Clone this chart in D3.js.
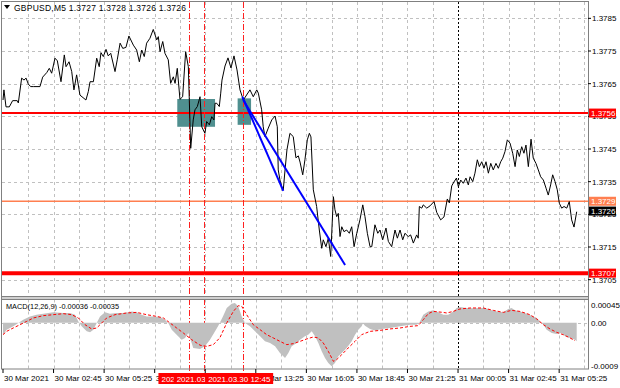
<!DOCTYPE html>
<html>
<head>
<meta charset="utf-8">
<script src="https://cdn.jsdelivr.net/npm/d3@7"></script>
<style>
  body { margin: 0; background: #fff; }
  svg { display: block; font-family: "Liberation Sans", Arial, sans-serif; }
</style>
</head>
<body>
<svg id="chart" width="620" height="388"></svg>
<script>
// price path (bar index from 30 Mar 00:05, M5 bars) and close
var priceBars = [0, 0.6, 1.9, 4, 6.1, 9, 9.7, 11.8, 13.3, 14.6, 16, 17.5, 19.2, 23.4, 25.1, 27.7, 29.3, 30.8, 32.9, 34.4,
  36.7, 38.8, 39.9, 41.8, 43.5, 44.9, 46.6, 48.7, 52.5, 54, 55.1, 57.2, 59.3, 60.9, 62, 63.5, 65.2, 66.6, 68.2, 70.9,
  72.3, 74.1, 75.8, 77.8, 79.7, 82.5, 84.6, 86.3, 87.8, 89.4, 90.9, 93, 95.1, 97.3, 98.3, 99.4, 101.1, 102.5, 104.6, 106.1,
  107.8, 108.9, 110.3, 112, 113.7, 115.6, 117.3, 118.8, 120.4, 121.5, 123, 124.7, 125.8, 127.8, 128.9, 130.6, 132.1, 133.5, 134.2, 135.3,
  136.9, 137.8, 138.6, 140.5, 142.4, 144.3, 146.2, 148.1, 150, 152.1, 156.3, 158.4, 160.6, 161.6, 163.7, 164.7, 165.8, 167.9, 170.1, 172.2,
  173.6, 174.2, 175.3, 176.4, 177.4, 178.5, 179.7, 181.6, 183.7, 185.4, 186.9, 188, 189.7, 191.1, 192.6, 193.9, 194.9, 196.4, 198.5, 200.2,
  201.7, 202.7, 204.4, 205.9, 207.4, 209.1, 210.1, 211.2, 212.2, 213.3, 214.4, 215.8, 217.5, 219.2, 220.7, 222.2, 223.9, 225.9, 227.7, 229.1,
  230.6, 232.3, 233.4, 235.4, 237.2, 238.6, 240.3, 242.4, 243.9, 246, 248.1, 249.6, 251.3, 253, 254.4, 256.5, 258, 259.7, 261.8, 262.8,
  263.5, 265, 266, 268.2, 270.3, 272.8, 274.5, 277, 279.1, 281.2, 282.5, 284, 285.4, 287, 288.2, 289.7, 291.3, 293, 294.5, 295.6,
  297.3, 298.7, 300.2, 301.5, 303, 304.4, 305.7, 307.2, 308.7, 310.3, 312, 313.5, 315, 316.3, 317.7, 319.2, 320.9, 322.6, 324.1, 325.5,
  326.8, 328.3, 329.7, 331, 332.5, 334.2, 335.6, 337.3, 338.8, 340.3, 342, 343.7, 345.1, 346.6, 347.9, 349.4, 350.8, 352.1, 353.6, 355.1,
  356.8, 358.4, 359.9, 361.4, 363.1];
var priceValues = [1.37600, 1.37631, 1.37579, 1.37579, 1.37598, 1.37598, 1.37591, 1.37667, 1.37661, 1.37667, 1.37649, 1.37641, 1.37641, 1.37641, 1.37670, 1.37684, 1.37697, 1.37682, 1.37728, 1.37720,
  1.37656, 1.37738, 1.37702, 1.37717, 1.37687, 1.37631, 1.37677, 1.37615, 1.37600, 1.37626, 1.37656, 1.37656, 1.37728, 1.37702, 1.37745, 1.37733, 1.37755, 1.37735, 1.37743, 1.37687,
  1.37723, 1.37774, 1.37758, 1.37761, 1.37796, 1.37768, 1.37753, 1.37717, 1.37753, 1.37733, 1.37774, 1.37789, 1.37816, 1.37784, 1.37794, 1.37748, 1.37779, 1.37743, 1.37723, 1.37651,
  1.37671, 1.37651, 1.37697, 1.37602, 1.37610, 1.37748, 1.37702, 1.37452, 1.37539, 1.37570, 1.37580, 1.37610, 1.37518, 1.37498, 1.37534, 1.37524, 1.37549, 1.37539, 1.37590, 1.37590,
  1.37580, 1.37621, 1.37661, 1.37704, 1.37729, 1.37698, 1.37735, 1.37692, 1.37631, 1.37600, 1.37631, 1.37610, 1.37631, 1.37621, 1.37570, 1.37518, 1.37488, 1.37514, 1.37539, 1.37551,
  1.37518, 1.37386, 1.37355, 1.37335, 1.37325, 1.37386, 1.37447, 1.37498, 1.37488, 1.37423, 1.37429, 1.37410, 1.37371, 1.37417, 1.37478, 1.37498, 1.37487, 1.37325, 1.37274, 1.37202,
  1.37146, 1.37172, 1.37151, 1.37177, 1.37121, 1.37304, 1.37264, 1.37243, 1.37253, 1.37182, 1.37212, 1.37197, 1.37202, 1.37192, 1.37212, 1.37151, 1.37192, 1.37233, 1.37279, 1.37243,
  1.37192, 1.37151, 1.37151, 1.37218, 1.37192, 1.37202, 1.37172, 1.37208, 1.37167, 1.37151, 1.37202, 1.37177, 1.37202, 1.37172, 1.37192, 1.37182, 1.37187, 1.37162, 1.37187, 1.37177,
  1.37274, 1.37269, 1.37279, 1.37269, 1.37276, 1.37289, 1.37256, 1.37233, 1.37242, 1.37297, 1.37285, 1.37337, 1.37349, 1.37361, 1.37335, 1.37355, 1.37345, 1.37361, 1.37340, 1.37365,
  1.37350, 1.37376, 1.37417, 1.37396, 1.37411, 1.37391, 1.37411, 1.37376, 1.37406, 1.37386, 1.37406, 1.37391, 1.37411, 1.37422, 1.37442, 1.37478, 1.37468, 1.37437, 1.37396, 1.37447,
  1.37427, 1.37457, 1.37437, 1.37462, 1.37396, 1.37480, 1.37422, 1.37406, 1.37386, 1.37365, 1.37355, 1.37330, 1.37309, 1.37340, 1.37371, 1.37350, 1.37325, 1.37284, 1.37269, 1.37274,
  1.37269, 1.37289, 1.37233, 1.37211, 1.37258];

// MACD(12,26,9) histogram and signal
var macdBars = [0, 2.3, 6.5, 9.7, 12.8, 17.1, 21.3, 25.5, 31.8, 38.2, 42.4, 45.6, 47.7, 49.8, 53, 55.1, 57.2, 59.3, 61.4, 64.6,
  67.7, 72, 76.1, 79.3, 81.5, 84.6, 87.8, 90.9, 95.1, 99.4, 102.5, 104.6, 106.8, 109.9, 113.1, 115.2, 117.3, 119.4, 120.4, 124.7,
  127.8, 131, 136.1, 139.2, 141.6, 144.7, 146.8, 148.9, 151.1, 153.2, 156.3, 159.5, 162.7, 165.8, 169, 172.2, 175.3, 178.5, 180.6, 182.7,
  185.9, 188, 191.1, 193.2, 195.4, 197.5, 199.6, 201.7, 203.8, 205.9, 208, 210.1, 212.2, 214.4, 217.5, 220.7, 222.8, 224.9, 227, 227.8,
  229.1, 232.3, 235.4, 239.7, 244.9, 251.3, 257.6, 261.8, 263.9, 266, 269.2, 272.3, 275.5, 278.7, 281.8, 285, 287.1, 289.2, 293.5, 297.7,
  301.9, 305.1, 308.2, 312.5, 316.6, 319.8, 321.9, 324.1, 327.2, 331.5, 334.6, 337.8, 340, 342, 344.1, 347.3, 350.4, 353.6, 355.7, 358.9,
  362, 363.1];
var macdValues = [-0.000233, -0.000136, -0.000072, -0.000006, 0.000058, 0.000122, 0.000155, 0.000175, 0.000200, 0.000188, 0.000188, 0.000155, 0.000025, -0.000072, -0.000169, -0.000188, -0.000136, -0.000006, 0.000122, 0.000200,
  0.000175, 0.000188, 0.000188, 0.000200, 0.000219, 0.000200, 0.000155, 0.000122, 0.000122, 0.000111, 0.000058, -0.000006, -0.000136, -0.000233, -0.000330, -0.000297, -0.000200, -0.000394, -0.000491, -0.000511,
  -0.000460, -0.000330, -0.000072, 0.000122, 0.000285, 0.000369, 0.000383, 0.000317, 0.000122, -0.000006, -0.000072, -0.000169, -0.000266, -0.000363, -0.000394, -0.000460, -0.000588, -0.000685, -0.000588, -0.000460,
  -0.000394, -0.000330, -0.000266, -0.000233, -0.000169, -0.000266, -0.000394, -0.000557, -0.000685, -0.000783, -0.000849, -0.000783, -0.000654, -0.000588, -0.000491, -0.000363, -0.000233, -0.000136, -0.000072, -0.000010,
  -0.000058, -0.000122, -0.000150, -0.000122, -0.000103, -0.000072, -0.000039, -0.000039, 0.000025, 0.000155, 0.000219, 0.000239, 0.000200, 0.000155, 0.000155, 0.000219, 0.000285, 0.000305, 0.000285, 0.000278,
  0.000285, 0.000285, 0.000252, 0.000219, 0.000200, 0.000266, 0.000285, 0.000239, 0.000219, 0.000175, 0.000136, 0.000091, 0.000025, -0.000039, -0.000136, -0.000200, -0.000219, -0.000200, -0.000266, -0.000297,
  -0.000330, -0.000363];
var signalBars = [0, 2.3, 6.5, 10.8, 15, 19.2, 25.5, 31.8, 38.2, 43.5, 47.7, 51.9, 56.1, 59.3, 62.5, 65.6, 70.9, 78.3, 84.6, 90.9,
  97.3, 101.5, 105.7, 109.9, 114.1, 119.4, 124.7, 128.9, 133.1, 137.3, 141.6, 145.8, 148.9, 151.1, 154.2, 158.4, 162.7, 166.9, 171.1, 175.3,
  179.6, 183.7, 188, 192.2, 196.4, 199.6, 202.7, 205.9, 209.1, 211.2, 214.4, 218.5, 222.8, 227, 232.3, 238.6, 244.9, 251.3, 257.6, 262.8,
  266, 269.2, 272.3, 278.5, 280.8, 285, 289.2, 295.6, 304, 310.3, 316.6, 321.9, 327.2, 333.5, 337.8, 342, 346.2, 350.4, 354.6, 358.9,
  362];
var signalValues = [-0.000233, -0.000169, -0.000103, -0.000039, 0.000025, 0.000091, 0.000136, 0.000155, 0.000175, 0.000155, 0.000091, -0.000039, -0.000122, -0.000103, -0.000006, 0.000091, 0.000155, 0.000188, 0.000200, 0.000155,
  0.000122, 0.000091, -0.000006, -0.000103, -0.000200, -0.000330, -0.000437, -0.000460, -0.000427, -0.000291, -0.000006, 0.000219, 0.000330, 0.000317, 0.000155, -0.000039, -0.000136, -0.000233, -0.000297, -0.000363,
  -0.000427, -0.000408, -0.000363, -0.000317, -0.000278, -0.000297, -0.000394, -0.000557, -0.000751, -0.000718, -0.000621, -0.000491, -0.000363, -0.000233, -0.000169, -0.000150, -0.000122, -0.000103, -0.000072, -0.000058,
  0.000058, 0.000175, 0.000219, 0.000200, 0.000188, 0.000219, 0.000266, 0.000285, 0.000285, 0.000239, 0.000200, 0.000239, 0.000219, 0.000155, 0.000072, -0.000039, -0.000122, -0.000188, -0.000233, -0.000297,
  -0.000350];

var timeLabels = ["30 Mar 2021", "30 Mar 02:45", "30 Mar 05:25", "30 Mar 08:05", "30 Mar 10:45", "30 Mar 13:25",
  "30 Mar 16:05", "30 Mar 18:45", "30 Mar 21:25", "31 Mar 00:05", "31 Mar 02:45", "31 Mar 05:25"];
var priceTicks = [1.3705, 1.3715, 1.3725, 1.3735, 1.3745, 1.3755, 1.3765, 1.3775, 1.3785];
var macdTicks = [0.00045, 0, -0.0009];
var macdTickLabels = ["0.00045", "0.00", "-0.0009"];

var levelPrices = [1.3756, 1.3729, 1.3707];
var levelColors = ["#ff0000", "#ff7f50", "#ff0000"];
var levelWidths = [2, 1.5, 4];
var lastPrice = 1.3726;
var vlineBars = [118, 127, 152];
var vlineLabels = ["2021.03.30 09:55", "2021.03.30 10:40", "2021.03.30 12:45"];
var vlineLabelShift = [-31, -30, -38];
var zoneBars = [[110.3, 134.2], [148.5, 157]];
var zonePrices = [[1.37603, 1.37518], [1.37605, 1.37524]];
var trendBars = [[151.5, 177.4], [152, 216.5]];
var trendPrices = [[1.37610, 1.37322], [1.37600, 1.37095]];
var separatorBar = 288;

var svg = d3.select("#chart");
var L = 2, R = 588, T = 2, B = 296, MT = 299.5, MB = 369;
var x = d3.scaleLinear().domain([0, 370.25]).range([3, R]);
var y = d3.scaleLinear().domain([1.3700, 1.3790]).range([B, T]);
var ym = d3.scaleLinear().domain([-0.0009, 0.00045]).range([MB, MT]);
var fmt = d3.format(".4f");

svg.append("rect").attr("width", 620).attr("height", 388).attr("fill", "#fff");

// grid
var gridBars = d3.range(16, 370, 16).filter(function (b) { return b !== separatorBar; });
var grid = svg.append("g").attr("stroke", "#c0c0c0").attr("stroke-dasharray", "3,3").attr("stroke-width", 1);
gridBars.forEach(function (b) {
  var gx = Math.round(x(b)) + 0.5;
  grid.append("line").attr("x1", gx).attr("x2", gx).attr("y1", T).attr("y2", B);
  grid.append("line").attr("x1", gx).attr("x2", gx).attr("y1", MT).attr("y2", MB);
});
priceTicks.forEach(function (p) {
  var gy = Math.round(y(p)) + 0.5;
  grid.append("line").attr("x1", L).attr("x2", R).attr("y1", gy).attr("y2", gy);
});
grid.append("line").attr("x1", L).attr("x2", R)
  .attr("y1", Math.round(ym(0)) + 0.5).attr("y2", Math.round(ym(0)) + 0.5);

// zones
zoneBars.forEach(function (zb, i) {
  svg.append("rect")
    .attr("x", x(zb[0])).attr("width", x(zb[1]) - x(zb[0]))
    .attr("y", y(zonePrices[i][0])).attr("height", y(zonePrices[i][1]) - y(zonePrices[i][0]))
    .attr("fill", "#4f8f8f");
});

// horizontal levels
levelPrices.forEach(function (p, i) {
  svg.append("line").attr("x1", L).attr("x2", R).attr("y1", y(p)).attr("y2", y(p))
    .attr("stroke", levelColors[i]).attr("stroke-width", levelWidths[i]);
});

// period separator and vertical lines
svg.append("line").attr("x1", Math.round(x(separatorBar)) + 0.5).attr("x2", Math.round(x(separatorBar)) + 0.5)
  .attr("y1", T).attr("y2", MB).attr("stroke", "#000").attr("stroke-dasharray", "2,2");
vlineBars.forEach(function (b) {
  var vx = Math.round(x(b)) + 0.5;
  svg.append("line").attr("x1", vx).attr("x2", vx).attr("y1", T).attr("y2", MB + 4)
    .attr("stroke", "#ff2020").attr("stroke-dasharray", "6,2,1,2");
});

// price line
var line = d3.line().x(function (d) { return x(d[0]); }).y(function (d) { return y(d[1]); });
svg.append("path").datum(d3.zip(priceBars, priceValues)).attr("d", line)
  .attr("fill", "none").attr("stroke", "#000").attr("stroke-width", 1);

// trend lines
trendBars.forEach(function (tb, i) {
  svg.append("line").attr("x1", x(tb[0])).attr("x2", x(tb[1]))
    .attr("y1", y(trendPrices[i][0])).attr("y2", y(trendPrices[i][1]))
    .attr("stroke", "#0000ff").attr("stroke-width", 2);
});

// MACD panel
var area = d3.area().x(function (d) { return x(d[0]); }).y0(ym(0)).y1(function (d) { return ym(d[1]); });
svg.append("path").datum(d3.zip(macdBars, macdValues)).attr("d", area).attr("fill", "#c0c0c0");
var sline = d3.line().x(function (d) { return x(d[0]); }).y(function (d) { return ym(d[1]); });
svg.append("path").datum(d3.zip(signalBars, signalValues)).attr("d", sline)
  .attr("fill", "none").attr("stroke", "#ff0000").attr("stroke-dasharray", "3,2");

// frames
svg.append("rect").attr("x", L - 0.5).attr("y", T - 0.5).attr("width", R - L + 1).attr("height", B - T + 1)
  .attr("fill", "none").attr("stroke", "#808080");
svg.append("rect").attr("x", L - 0.5).attr("y", B + 0.5).attr("width", R - L + 1).attr("height", 3)
  .attr("fill", "#d0d0d0").attr("stroke", "#808080");
svg.append("rect").attr("x", L - 0.5).attr("y", MT).attr("width", R - L + 1).attr("height", MB - MT)
  .attr("fill", "none").attr("stroke", "#808080");

// price axis
var txt = svg.append("g").attr("font-size", 8).attr("fill", "#000");
priceTicks.forEach(function (p) {
  txt.append("line").attr("x1", R).attr("x2", R + 3).attr("y1", y(p)).attr("y2", y(p)).attr("stroke", "#000");
  txt.append("text").attr("x", R + 4).attr("y", y(p) + 3).text(fmt(p));
});
macdTicks.forEach(function (v, i) {
  var ty = i === 0 ? ym(v) + 5 : (i === 2 ? ym(v) - 3 : ym(v));
  txt.append("text").attr("x", R + 3).attr("y", ty + 3).text(macdTickLabels[i]);
});

// time axis
timeLabels.forEach(function (t, i) {
  var tx = x(i * 32);
  txt.append("line").attr("x1", tx).attr("x2", tx).attr("y1", MB).attr("y2", MB + 4).attr("stroke", "#000");
  txt.append("text").attr("x", tx + 1).attr("y", 381).text(t);
});

// labels for vertical lines
vlineBars.forEach(function (b, i) {
  var bx = x(b) + vlineLabelShift[i];
  svg.append("rect").attr("x", bx).attr("y", 373).attr("width", 68).attr("height", 11).attr("fill", "#ff0000");
  svg.append("text").attr("x", bx + 3).attr("y", 381.5).attr("font-size", 8).attr("fill", "#fff").text(vlineLabels[i]);
});

// price labels for levels
var boxColors = ["#ff0000", "#ff7f50", "#ff0000"];
levelPrices.concat([lastPrice]).forEach(function (p, i) {
  var c = i < 3 ? boxColors[i] : "#000";
  svg.append("rect").attr("x", R + 1).attr("y", y(p) - 4.5).attr("width", 27).attr("height", 9).attr("fill", c);
  svg.append("text").attr("x", R + 3).attr("y", y(p) + 3).attr("font-size", 8).attr("fill", "#fff").text(fmt(p));
});

// titles
svg.append("path").attr("d", "M4,5 L10,5 L7,9 Z").attr("fill", "#000");
txt.append("text").attr("x", 14).attr("y", 10.5).attr("font-size", 8.5)
  .attr("textLength", 172).attr("lengthAdjust", "spacing")
  .text("GBPUSD,M5  1.3727 1.3728 1.3726 1.3726");
txt.append("text").attr("x", 6).attr("y", 309)
  .attr("textLength", 113).attr("lengthAdjust", "spacingAndGlyphs")
  .text("MACD(12,26,9) -0.00036 -0.00035");
</script>
</body>
</html>
